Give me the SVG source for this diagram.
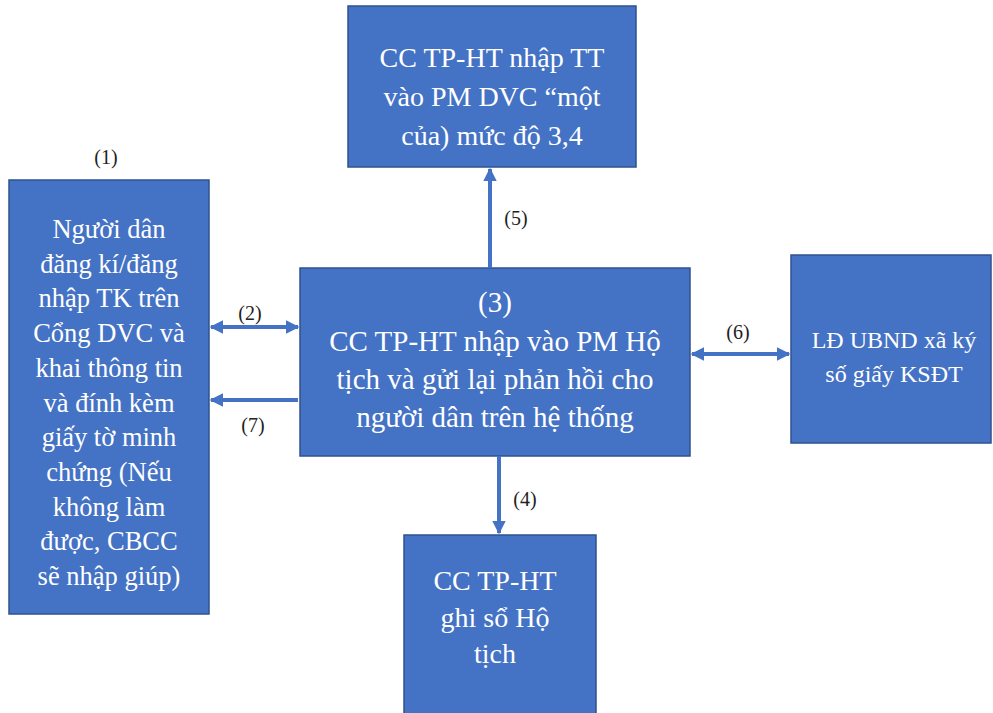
<svg xmlns="http://www.w3.org/2000/svg" width="993" height="713" viewBox="0 0 993 713">
<defs>
<marker id="ah" viewBox="0 0 10 10" refX="9" refY="5" markerWidth="3.4" markerHeight="3.4" orient="auto-start-reverse" markerUnits="strokeWidth">
<path d="M0,0 L10,5 L0,10 Z" fill="#4472C4"/>
</marker>
<style>
.box{fill:#4472C4;stroke:#2F528F;stroke-width:1.5}
.t{font-family:"Liberation Serif","Times New Roman",serif;fill:#fff;text-anchor:middle}
.lab{font-family:"Liberation Serif","Times New Roman",serif;fill:#222;font-size:20px;text-anchor:middle}
.c{stroke:#4472C4;stroke-width:4;fill:none}
</style>
</defs>
<rect width="993" height="713" fill="#fff"/>
<g id="n-top">
<rect class="box" x="348" y="6" width="288" height="161"/>
<text class="t" font-size="28"><tspan x="492" y="67">CC TP-HT nhập TT</tspan><tspan x="492" y="106">vào PM DVC “một</tspan><tspan x="492" y="145">của) mức độ 3,4</tspan></text>
</g>
<g id="n-left">
<rect class="box" x="9" y="180" width="200" height="434"/>
<text class="t" font-size="26.5"><tspan x="109" y="238">Người dân</tspan><tspan x="109" y="272.7">đăng kí/đăng</tspan><tspan x="109" y="307.4">nhập TK trên</tspan><tspan x="109" y="342.1">Cổng DVC và</tspan><tspan x="109" y="376.8">khai thông tin</tspan><tspan x="109" y="411.5">và đính kèm</tspan><tspan x="109" y="446.2">giấy tờ minh</tspan><tspan x="109" y="480.9">chứng (Nếu</tspan><tspan x="109" y="515.6">không làm</tspan><tspan x="109" y="550.3">được, CBCC</tspan><tspan x="109" y="585">sẽ nhập giúp)</tspan></text>
</g>
<g id="n-center">
<rect class="box" x="300" y="268" width="390" height="188"/>
<text class="t" font-size="29"><tspan x="495" y="312">(3)</tspan><tspan x="495" y="351">CC TP-HT nhập vào PM Hộ</tspan><tspan x="495" y="389">tịch và gửi lại phản hồi cho</tspan><tspan x="495" y="427">người dân trên hệ thống</tspan></text>
</g>
<g id="n-right">
<rect class="box" x="791" y="255" width="200" height="188"/>
<text class="t" font-size="24"><tspan x="894" y="348">LĐ UBND xã ký</tspan><tspan x="894" y="382">số giấy KSĐT</tspan></text>
</g>
<g id="n-bottom">
<rect class="box" x="404" y="535" width="192" height="182"/>
<text class="t" font-size="28"><tspan x="495" y="590">CC TP-HT</tspan><tspan x="495" y="627">ghi sổ Hộ</tspan><tspan x="495" y="663">tịch</tspan></text>
</g>
<g id="connectors">
<line class="c" x1="211" y1="327" x2="298" y2="327" marker-start="url(#ah)" marker-end="url(#ah)"/>
<line class="c" x1="298" y1="400" x2="211" y2="400" marker-end="url(#ah)"/>
<line class="c" x1="490" y1="268" x2="490" y2="169" marker-end="url(#ah)"/>
<line class="c" x1="692" y1="354" x2="789" y2="354" marker-start="url(#ah)" marker-end="url(#ah)"/>
<line class="c" x1="499" y1="456" x2="499" y2="533" marker-end="url(#ah)"/>
</g>
<g id="labels">
<text class="lab" x="106" y="164">(1)</text>
<text class="lab" x="250" y="320">(2)</text>
<text class="lab" x="253" y="432">(7)</text>
<text class="lab" x="516" y="225">(5)</text>
<text class="lab" x="738" y="339">(6)</text>
<text class="lab" x="525" y="506">(4)</text>
</g>
</svg>
